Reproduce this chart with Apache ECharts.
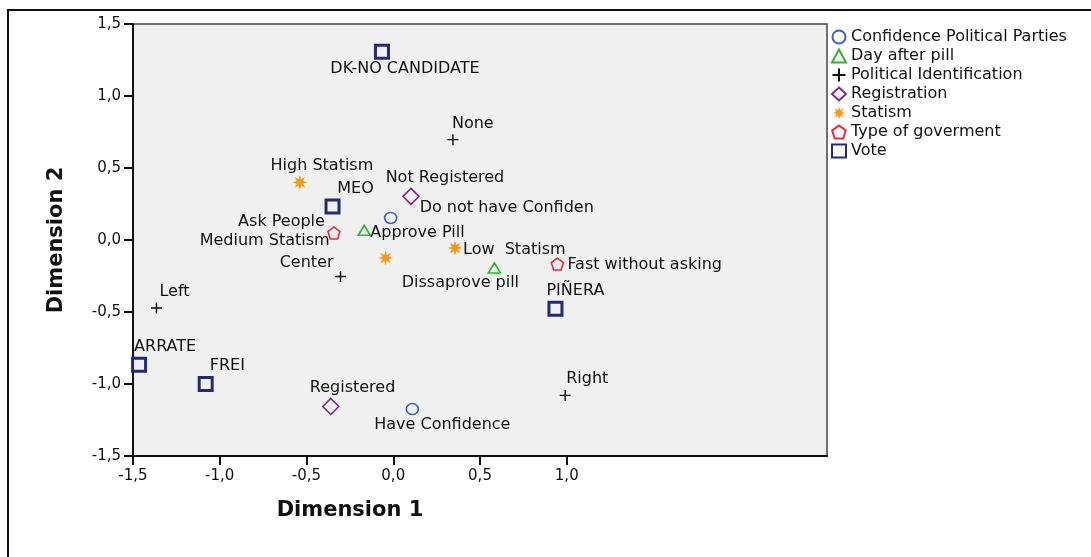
<!DOCTYPE html>
<html>
<head>
<meta charset="utf-8">
<script src="https://cdn.jsdelivr.net/npm/echarts@6/dist/echarts.min.js"></script>
<style>
  html, body { margin: 0; background: #fff; }
  #chart { width: 1091px; height: 557px; }
</style>
</head>
<body>
<div id="chart"></div>
<script>
// category quantifications
const seriesNames = ['Confidence Political Parties', 'Day after pill', 'Political Identification',
  'Registration', 'Statism', 'Type of goverment', 'Vote']

const confidenceLabels = ['Do not have Confiden', 'Have Confidence']
const confidencePoints = [[-0.015, 0.153], [0.11, -1.174]]

const pillLabels = ['Approve Pill', 'Dissaprove pill']
const pillPoints = [[-0.167, 0.067], [0.583, -0.194]]

const politicalLabels = ['None', 'Center', 'Left', 'Right']
const politicalPoints = [[0.344, 0.697], [-0.304, -0.253], [-1.365, -0.472], [0.991, -1.079]]

const registrationLabels = ['Not Registered', 'Registered']
const registrationPoints = [[0.102, 0.303], [-0.36, -1.156]]

const statismLabels = ['High Statism', 'Medium Statism', 'Low  Statism']
const statismPoints = [[-0.538, 0.40], [-0.044, -0.125], [0.356, -0.056]]

const governmentLabels = ['Ask People', 'Fast without asking']
const governmentPoints = [[-0.342, 0.049], [0.946, -0.167]]

const voteLabels = ['DK-NO CANDIDATE', 'MEO', 'PIÑERA', 'ARRATE', 'FREI']
const votePoints = [[-0.065, 1.308], [-0.35, 0.233], [0.935, -0.477], [-1.465, -0.866], [-1.081, -1.0]]

const xTicks = [-1.5, -1.0, -0.5, 0.0, 0.5, 1.0]
const yTicks = [-1.5, -1.0, -0.5, 0.0, 0.5, 1.0, 1.5]

// where each label sits relative to its marker: [align, dx, dy]
const labelPlace = {
  'DK-NO CANDIDATE': ['center', 23, 17],
  'None': ['left', -1, -16],
  'High Statism': ['center', 22, -17],
  'MEO': ['center', 23, -18],
  'Not Registered': ['center', 34, -19],
  'Do not have Confiden': ['left', 29, -10],
  'Ask People': ['right', -9, -11],
  'Medium Statism': ['right', -56, -17],
  'Approve Pill': ['left', 6, 2],
  'Low  Statism': ['left', 8, 2],
  'Center': ['right', -7, -14],
  'Dissaprove pill': ['center', -34, 15],
  'Fast without asking': ['left', 10, 1],
  'PIÑERA': ['left', -9, -18],
  'Right': ['left', 1, -17],
  'Left': ['left', 3, -16],
  'ARRATE': ['left', -5, -18],
  'FREI': ['left', 4, -18],
  'Registered': ['left', -21, -19],
  'Have Confidence': ['center', 30, 16]
}

const FONT = 'DejaVu Sans'

const starPath = 'path://M20,10 L14.16,11.72 L17.07,17.07 L11.72,14.16 L10,20 L8.28,14.16 L2.93,17.07 L5.84,11.72 L0,10 L5.84,8.28 L2.93,2.93 L8.28,5.84 L10,0 L11.72,5.84 L17.07,2.93 L14.16,8.28 Z'
const pentagonPath = 'path://M10,0 L19.5,6.9 L15.9,18.1 L4.1,18.1 L0.5,6.9 Z'
const plusPath = 'path://M0,5 L10,5 M5,0 L5,10'

function fmt (v) {
  return v.toFixed(1).replace('.', ',')
}

function points (pts, labels) {
  return pts.map((p, i) => {
    let pl = labelPlace[labels[i]]
    return {
      name: labels[i],
      value: [p[0], p[1]],
      label: { align: pl[0], offset: [pl[1], pl[2]] }
    }
  })
}

function makeSeries (name, pts, labels, symbol, size, style) {
  style.opacity = 1
  return {
    name: name,
    type: 'scatter',
    symbol: symbol,
    symbolSize: size,
    itemStyle: style,
    label: {
      show: true,
      position: 'inside',
      formatter: '{b}',
      color: '#111',
      fontFamily: FONT,
      fontSize: 16,
      verticalAlign: 'middle'
    },
    emphasis: { disabled: true },
    data: points(pts, labels)
  }
}

let series = [
  makeSeries(seriesNames[0], confidencePoints, confidenceLabels, 'circle', [12, 11],
    { color: 'rgba(0,0,0,0)', borderColor: '#3f5fc0', borderWidth: 1.6 }),
  makeSeries(seriesNames[1], pillPoints, pillLabels, 'triangle', [12, 10],
    { color: 'rgba(0,0,0,0)', borderColor: '#2eb52e', borderWidth: 1.6 }),
  makeSeries(seriesNames[2], politicalPoints, politicalLabels, plusPath, 11,
    { color: 'rgba(0,0,0,0)', borderColor: '#111', borderWidth: 1.4 }),
  makeSeries(seriesNames[3], registrationPoints, registrationLabels, 'diamond', 16,
    { color: 'rgba(0,0,0,0)', borderColor: '#832683', borderWidth: 1.6 }),
  makeSeries(seriesNames[4], statismPoints, statismLabels, starPath, 15,
    { color: '#f79a1b' }),
  makeSeries(seriesNames[5], governmentPoints, governmentLabels, pentagonPath, 12,
    { color: 'rgba(0,0,0,0)', borderColor: '#ee2838', borderWidth: 1.6 }),
  makeSeries(seriesNames[6], votePoints, voteLabels, 'rect', 13,
    { color: 'rgba(0,0,0,0)', borderColor: '#262a75', borderWidth: 3 })
]

let option = {
  animation: false,
  backgroundColor: '#fff',
  textStyle: { fontFamily: FONT },
  grid: {
    left: 133,
    top: 24,
    right: 264,
    bottom: 101,
    show: true,
    backgroundColor: '#f0f0f0',
    borderColor: '#444',
    borderWidth: 1.5
  },
  legend: {
    orient: 'vertical',
    left: 826,
    top: 24,
    itemWidth: 14,
    itemHeight: 13,
    itemGap: 3,
    data: seriesNames,
    itemStyle: { borderWidth: 2 },
    textStyle: { fontFamily: FONT, fontSize: 16, color: '#111', lineHeight: 16 }
  },
  xAxis: {
    type: 'value',
    min: -1.5,
    max: 2.5,
    interval: 0.5,
    axisLine: { onZero: false, lineStyle: { color: '#111', width: 2 } },
    axisTick: { show: true, length: 9, customValues: xTicks, lineStyle: { color: '#111', width: 2 } },
    axisLabel: {
      customValues: xTicks,
      formatter: fmt,
      margin: 13,
      color: '#111',
      fontFamily: FONT,
      fontSize: 15
    },
    splitLine: { show: false }
  },
  yAxis: {
    type: 'value',
    min: -1.5,
    max: 1.5,
    interval: 0.5,
    name: 'Dimension 2',
    nameLocation: 'middle',
    nameGap: 66,
    nameTextStyle: { fontFamily: FONT, fontSize: 21, fontWeight: 'bold', color: '#111' },
    axisLine: { onZero: false, lineStyle: { color: '#111', width: 2 } },
    axisTick: { show: true, length: 9, customValues: yTicks, lineStyle: { color: '#111', width: 2 } },
    axisLabel: {
      customValues: yTicks,
      formatter: fmt,
      margin: 12,
      color: '#111',
      fontFamily: FONT,
      fontSize: 15
    },
    splitLine: { show: false }
  },
  graphic: [
    {
      type: 'rect',
      z: -10,
      shape: { x: 8, y: 10, width: 1120, height: 600 },
      style: { fill: 'none', stroke: '#111', lineWidth: 2 }
    },
    {
      type: 'text',
      x: 350,
      y: 511,
      style: {
        text: 'Dimension 1',
        fill: '#111',
        font: 'bold 21px "DejaVu Sans"',
        textAlign: 'center',
        textVerticalAlign: 'middle'
      }
    }
  ],
  series: series
}

let chart = echarts.init(document.getElementById('chart'))
chart.setOption(option)
</script>
</body>
</html>
